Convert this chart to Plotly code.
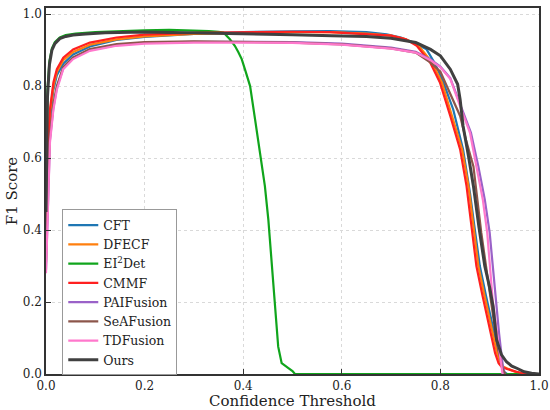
import plotly.graph_objects as go

# Görbék (leolvasott pontok)
names = ['CFT', 'DFECF', 'EI<sup>2</sup>Det', 'CMMF', 'PAIFusion', 'SeAFusion', 'TDFusion', 'Ours']
colors = ['#1f77b4', '#ff7f0e', '#10a51c', '#ff2020', '#9a62c8', '#8c564b', '#ff78cc', '#404040']

cft_x = [0, 0.004, 0.008, 0.015, 0.022, 0.035, 0.055, 0.089, 0.143, 0.2, 0.3, 0.4, 0.5, 0.576, 0.65, 0.691, 0.72, 0.745,
         0.772, 0.79, 0.806, 0.826, 0.846, 0.86, 0.87, 0.88, 0.892, 0.904, 0.913, 0.921, 0.93, 0.935]
cft_y = [0.36, 0.6, 0.71, 0.79, 0.83, 0.862, 0.888, 0.91, 0.928, 0.937, 0.945, 0.95, 0.952, 0.953, 0.95, 0.944, 0.935, 0.921,
         0.902, 0.86, 0.81, 0.735, 0.624, 0.503, 0.40, 0.30, 0.22, 0.15, 0.09, 0.04, 0.005, 0.0]

dfecf_x = [0, 0.004, 0.008, 0.015, 0.022, 0.035, 0.055, 0.089, 0.143, 0.2, 0.3, 0.4, 0.5, 0.576, 0.65, 0.7, 0.73, 0.756,
           0.783, 0.803, 0.824, 0.844, 0.857, 0.867, 0.877, 0.889, 0.901, 0.909, 0.915, 0.922, 0.928, 0.94, 0.955, 0.965]
dfecf_y = [0.37, 0.61, 0.725, 0.8, 0.84, 0.872, 0.895, 0.915, 0.93, 0.938, 0.945, 0.948, 0.95, 0.95, 0.946, 0.94, 0.93, 0.912,
           0.866, 0.81, 0.717, 0.624, 0.522, 0.41, 0.30, 0.22, 0.15, 0.095, 0.058, 0.03, 0.02, 0.012, 0.004, 0.0]

ei2det_x = [0, 0.003, 0.007, 0.012, 0.018, 0.028, 0.04, 0.06, 0.1, 0.15, 0.2, 0.25, 0.3, 0.33, 0.35, 0.36, 0.373, 0.383,
            0.39, 0.397, 0.405, 0.414, 0.424, 0.434, 0.444, 0.451, 0.456, 0.461, 0.466, 0.471, 0.478, 0.485, 0.491, 0.5,
            0.505, 0.7, 1.0]
ei2det_y = [0.45, 0.79, 0.87, 0.905, 0.922, 0.935, 0.942, 0.946, 0.95, 0.953, 0.955, 0.956, 0.955, 0.953, 0.951, 0.949, 0.93,
            0.912, 0.895, 0.875, 0.84, 0.8, 0.708, 0.615, 0.522, 0.429, 0.336, 0.243, 0.15, 0.076, 0.03, 0.022, 0.017, 0.008,
            0.0, 0.0, 0.0]

cmmf_x = [0, 0.004, 0.008, 0.015, 0.022, 0.035, 0.055, 0.089, 0.143, 0.2, 0.3, 0.4, 0.5, 0.576, 0.65, 0.7, 0.73, 0.752,
          0.779, 0.799, 0.82, 0.84, 0.853, 0.863, 0.873, 0.885, 0.897, 0.905, 0.911, 0.918, 0.924, 0.935, 0.955, 0.967, 0.975]
cmmf_y = [0.38, 0.62, 0.735, 0.81, 0.847, 0.879, 0.902, 0.921, 0.935, 0.943, 0.948, 0.95, 0.951, 0.95, 0.945, 0.94, 0.93,
          0.912, 0.866, 0.81, 0.717, 0.624, 0.522, 0.41, 0.30, 0.22, 0.15, 0.095, 0.058, 0.03, 0.02, 0.014, 0.006, 0.002, 0.0]

pai_x = [0, 0.004, 0.008, 0.015, 0.022, 0.035, 0.055, 0.089, 0.143, 0.2, 0.3, 0.4, 0.5, 0.6, 0.7, 0.75, 0.78, 0.8, 0.82,
         0.84, 0.862, 0.877, 0.89, 0.9, 0.906, 0.912, 0.919, 0.925, 0.929]
pai_y = [0.29, 0.51, 0.65, 0.74, 0.795, 0.85, 0.878, 0.9, 0.914, 0.92, 0.923, 0.923, 0.922, 0.918, 0.907, 0.895, 0.874, 0.854,
         0.822, 0.75, 0.67, 0.577, 0.485, 0.392, 0.30, 0.206, 0.113, 0.04, 0.0]

sea_x = [0, 0.004, 0.008, 0.015, 0.022, 0.035, 0.055, 0.089, 0.143, 0.2, 0.3, 0.4, 0.5, 0.6, 0.7, 0.75, 0.78, 0.8, 0.82,
         0.84, 0.852, 0.867, 0.883, 0.897, 0.907, 0.917, 0.927, 0.932]
sea_y = [0.31, 0.53, 0.66, 0.75, 0.8, 0.853, 0.88, 0.903, 0.917, 0.922, 0.924, 0.923, 0.921, 0.916, 0.905, 0.893, 0.865, 0.84,
         0.78, 0.717, 0.65, 0.577, 0.392, 0.253, 0.16, 0.07, 0.01, 0.0]

tdf_x = [0, 0.004, 0.008, 0.015, 0.022, 0.035, 0.055, 0.089, 0.143, 0.2, 0.3, 0.4, 0.5, 0.6, 0.7, 0.75, 0.78, 0.8, 0.82,
         0.84, 0.86, 0.873, 0.886, 0.895, 0.9, 0.906, 0.915, 0.922, 0.926]
tdf_y = [0.28, 0.5, 0.643, 0.735, 0.79, 0.847, 0.875, 0.898, 0.912, 0.918, 0.921, 0.921, 0.92, 0.915, 0.904, 0.893, 0.872,
         0.852, 0.82, 0.744, 0.67, 0.577, 0.485, 0.392, 0.30, 0.206, 0.113, 0.04, 0.0]

ours_x = [0, 0.003, 0.007, 0.012, 0.018, 0.028, 0.04, 0.055, 0.08, 0.12, 0.2, 0.3, 0.4, 0.5, 0.58, 0.65, 0.7, 0.75, 0.78,
          0.8, 0.82, 0.835, 0.84, 0.846, 0.857, 0.867, 0.878, 0.89, 0.9, 0.907, 0.914, 0.924, 0.934, 0.945, 0.955, 0.97,
          0.985, 1.0]
ours_y = [0.45, 0.77, 0.86, 0.9, 0.918, 0.932, 0.938, 0.942, 0.945, 0.948, 0.95, 0.948, 0.946, 0.943, 0.94, 0.938, 0.933,
          0.921, 0.902, 0.884, 0.847, 0.805, 0.763, 0.689, 0.605, 0.522, 0.41, 0.30, 0.24, 0.187, 0.095, 0.053, 0.034,
          0.022, 0.016, 0.006, 0.002, 0.0]

xs = [cft_x, dfecf_x, ei2det_x, cmmf_x, pai_x, sea_x, tdf_x, ours_x]
ys = [cft_y, dfecf_y, ei2det_y, cmmf_y, pai_y, sea_y, tdf_y, ours_y]

fig = go.Figure()
for name, color, x, y in zip(names, colors, xs, ys):
    fig.add_trace(go.Scatter(
        x=x, y=y, mode='lines', name=name,
        line=dict(color=color, width=3 if name == 'Ours' else 2.2)
    ))

tick_vals = [0, 0.2, 0.4, 0.6, 0.8, 1.0]
tick_text = ['0.0', '0.2', '0.4', '0.6', '0.8', '1.0']

axis_style = dict(
    showline=True, linecolor='#333333', linewidth=1.5, mirror=True,
    ticks='inside', ticklen=5, tickwidth=1.2, tickcolor='#333333',
    showgrid=True, gridcolor='#d9d9d9', griddash='dot', gridwidth=1,
    zeroline=False, tickvals=tick_vals, ticktext=tick_text,
    tickfont=dict(size=12, color='#222222'), automargin=False,
)

fig.update_layout(
    width=550, height=410,
    margin=dict(l=46, r=11, t=8, b=36),
    paper_bgcolor='white', plot_bgcolor='white',
    font=dict(family='DejaVu Serif', color='#222222'),
    xaxis=dict(range=[0, 1.0], title=dict(text='Confidence Threshold', font=dict(size=15), standoff=2), **axis_style),
    yaxis=dict(range=[0, 1.017], title=dict(text='F1 Score', font=dict(size=15), standoff=2), **axis_style),
    legend=dict(
        x=0.033, y=-0.004, xanchor='left', yanchor='bottom',
        bgcolor='white', bordercolor='#999999', borderwidth=1,
        font=dict(size=12.5, family='DejaVu Serif'), tracegroupgap=0,
    ),
)

# a böngésző alap 8 px-es body margóját kinullázzuk
fig.write_html("out.html", config={'displayModeBar': False},
               post_script="document.body.style.margin='0';")
